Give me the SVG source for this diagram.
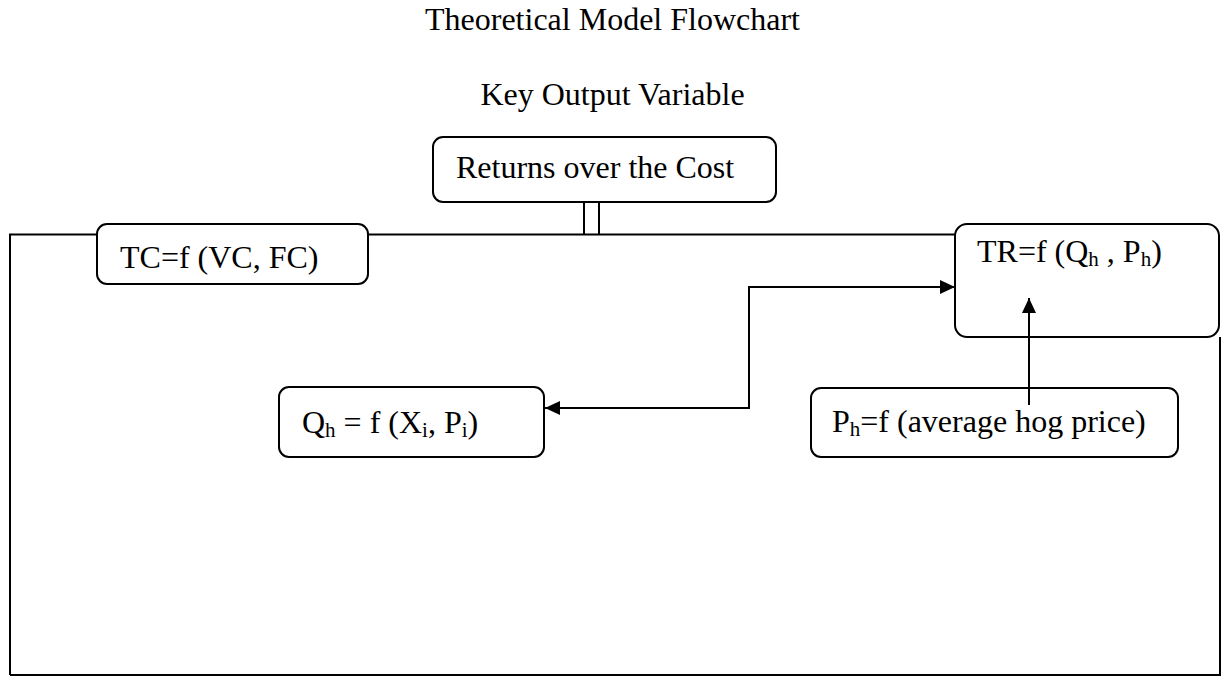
<svg xmlns="http://www.w3.org/2000/svg" width="1225" height="677" viewBox="0 0 1225 677">
<style>
text{font-family:"Liberation Serif","Times New Roman",serif;font-size:32px;fill:#000}
.box{fill:#fff;stroke:#000;stroke-width:2}
.ln{fill:none;stroke:#000;stroke-width:2}
.sub{font-size:21px}
</style>
<defs>
<marker id="ah" viewBox="0 0 15 14" refX="15" refY="7" markerWidth="15" markerHeight="14" markerUnits="userSpaceOnUse" orient="auto-start-reverse">
<path d="M0,0 L15,7 L0,14 Z" fill="#000"/>
</marker>
</defs>
<rect width="1225" height="677" fill="#fff"/>
<text x="612.5" y="30" text-anchor="middle">Theoretical Model Flowchart</text>
<text x="612.5" y="105" text-anchor="middle">Key Output Variable</text>
<g id="frame">
<path class="ln" d="M10,675 V234.5 H955"/>
<path class="ln" d="M1220,337 V675 H10"/>
<path class="ln" d="M584,202 V234.5 M599,202 V234.5"/>
</g>
<g id="returns">
<rect class="box" x="433" y="137" width="343" height="65" rx="10"/>
<text x="456" y="178">Returns over the Cost</text>
</g>
<g id="tc">
<rect class="box" x="97" y="224" width="271" height="60" rx="10"/>
<text x="120" y="268">TC=f (VC, FC)</text>
</g>
<g id="tr">
<rect class="box" x="955" y="224" width="264" height="113" rx="12"/>
<text x="977" y="262">TR=f (Q<tspan class="sub" dy="4">h</tspan><tspan dy="-4"> , P</tspan><tspan class="sub" dy="4">h</tspan><tspan dy="-4">)</tspan></text>
</g>
<g id="qh">
<rect class="box" x="279" y="387" width="265" height="70" rx="10"/>
<text x="302" y="433">Q<tspan class="sub" dy="4">h</tspan><tspan dy="-4"> = f (X</tspan><tspan class="sub" dy="4">i</tspan><tspan dy="-4">, P</tspan><tspan class="sub" dy="4">i</tspan><tspan dy="-4">)</tspan></text>
</g>
<g id="ph">
<rect class="box" x="811" y="388" width="367" height="69" rx="10"/>
<text x="832" y="432">P<tspan class="sub" dy="4">h</tspan><tspan dy="-4">=f (average hog price)</tspan></text>
</g>
<g id="connectors">
<path class="ln" d="M955,287 H749 V408 H545" marker-start="url(#ah)" marker-end="url(#ah)"/>
<path class="ln" d="M1029,405 V298" marker-end="url(#ah)"/>
</g>
</svg>
